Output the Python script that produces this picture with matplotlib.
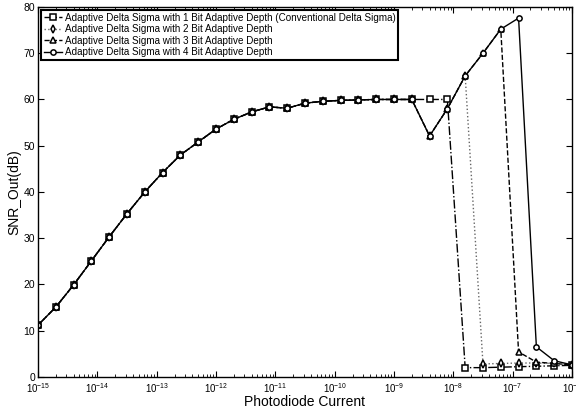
import numpy as np
import matplotlib
matplotlib.use('Agg')
import matplotlib.pyplot as plt

plt.rcParams['font.family'] = ['Liberation Sans', 'DejaVu Sans']

# photodiode current, log10 exponents of each sample
exps = [-15.0, -14.7, -14.4, -14.1, -13.8, -13.5, -13.2, -12.9, -12.6, -12.3,
        -12.0, -11.7, -11.4, -11.1, -10.8, -10.5, -10.2, -9.9, -9.6, -9.3,
        -9.0, -8.7, -8.4, -8.1, -7.8, -7.5, -7.2, -6.9, -6.6, -6.3, -6.0]
current = 10 ** np.array(exps)

snr_1bit = [11.2, 15.1, 19.9, 25.1, 30.3, 35.3, 40.0, 44.2, 48.0, 50.8,
            53.6, 55.7, 57.3, 58.4, 58.1, 59.2, 59.6, 59.8, 59.9, 60.0,
            60.0, 60.0, 60.0, 60.0, 2.0, 2.0, 2.1, 2.2, 2.3, 2.4, 2.5]
snr_2bit = [11.2, 15.1, 19.9, 25.1, 30.3, 35.3, 40.0, 44.2, 48.0, 50.8,
            53.6, 55.7, 57.3, 58.4, 58.1, 59.2, 59.6, 59.8, 59.9, 60.0,
            60.0, 60.0, 52.1, 58.0, 65.1, 2.8, 2.9, 3.0, 3.0, 2.9, 2.6]
snr_3bit = [11.2, 15.1, 19.9, 25.1, 30.3, 35.3, 40.0, 44.2, 48.0, 50.8,
            53.6, 55.7, 57.3, 58.4, 58.1, 59.2, 59.6, 59.8, 59.9, 60.0,
            60.0, 60.0, 52.1, 58.0, 65.1, 70.0, 75.2, 5.4, 3.2, 2.9, 2.6]
snr_4bit = [11.2, 15.1, 19.9, 25.1, 30.3, 35.3, 40.0, 44.2, 48.0, 50.8,
            53.6, 55.7, 57.3, 58.4, 58.1, 59.2, 59.6, 59.8, 59.9, 60.0,
            60.0, 60.0, 52.1, 58.0, 65.1, 70.0, 75.2, 77.6, 6.5, 3.5, 2.6]

labels = ['Adaptive Delta Sigma with 1 Bit Adaptive Depth (Conventional Delta Sigma)',
          'Adaptive Delta Sigma with 2 Bit Adaptive Depth',
          'Adaptive Delta Sigma with 3 Bit Adaptive Depth',
          'Adaptive Delta Sigma with 4 Bit Adaptive Depth']

fig = plt.figure(figsize=(5.76, 4.11), dpi=100)
ax = fig.add_axes([0.066, 0.083, 0.927, 0.9])

mk = dict(markersize=3.8, markerfacecolor='white', markeredgewidth=1.1, lw=1)
ax.plot(current, snr_1bit, '-.s', color='black', label=labels[0], **mk)
ax.plot(current, snr_2bit, ':d', color='#666666', markeredgecolor='black', label=labels[1], **mk)
ax.plot(current, snr_3bit, '--^', color='black', label=labels[2], **mk)
ax.plot(current, snr_4bit, '-o', color='black', label=labels[3], **mk)

ax.set_xscale('log')
ax.set_xlim(1e-15, 1e-6)
ax.set_ylim(0, 80)
ax.set_yticks(range(0, 81, 10))
ax.set_xticks(10.0 ** np.arange(-15, -5))
ax.tick_params(which='both', direction='in', top=True, right=True)
ax.tick_params(axis='x', labelsize=7, pad=3)
ax.tick_params(axis='y', labelsize=7.5, pad=2)
ax.tick_params(which='major', length=4)
ax.tick_params(which='minor', length=2)
for s in ax.spines.values():
    s.set_linewidth(1)

ax.set_xlabel('Photodiode Current', fontsize=10, labelpad=0)
ax.set_ylabel('SNR_Out(dB)', fontsize=10, labelpad=2)

leg = ax.legend(loc='upper left', fontsize=7.1, handlelength=1.8, handletextpad=0.3,
                borderpad=0.3, labelspacing=0.15, borderaxespad=0.3,
                fancybox=False, framealpha=1)
leg.get_frame().set_edgecolor('black')
leg.get_frame().set_linewidth(1.5)

fig.savefig('out.png', dpi=100)
